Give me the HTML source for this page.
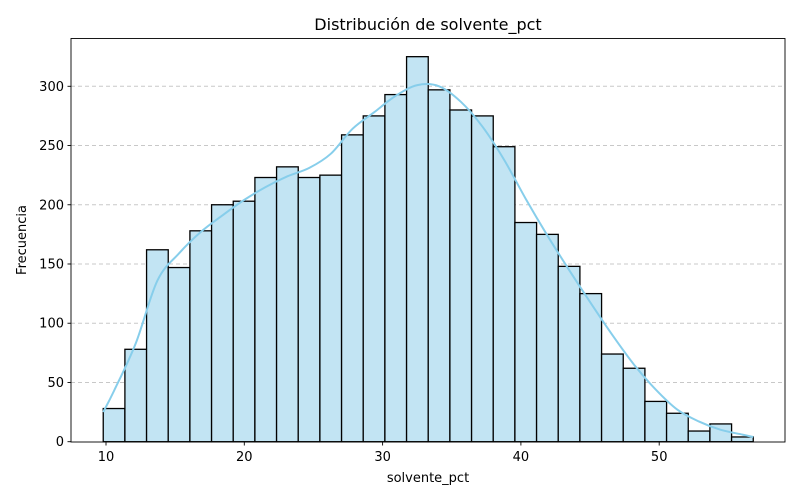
<!DOCTYPE html>
<html><head><meta charset="utf-8"><style>
body{margin:0;background:#fff;}
svg{display:block;font-family:"DejaVu Sans","Liberation Sans",sans-serif;}
</style></head><body>
<svg id="chart" width="800" height="500" viewBox="0 0 800 500">
<rect x="0" y="0" width="800" height="500" fill="#fff"/>
<text x="428" y="30" font-size="16" text-anchor="middle" fill="#000">Distribución de solvente_pct</text>
<g id="grid"></g>
<g id="bars"></g>
<g id="kde"></g>
<rect x="71" y="38.5" width="714" height="403.5" fill="none" stroke="#000" stroke-width="0.9"/>
<g id="xticks"></g>
<g id="yticks"></g>
<text x="428" y="482" font-size="13" text-anchor="middle">solvente_pct</text>
<text x="26" y="240" font-size="13" text-anchor="middle" transform="rotate(-90 26 240)">Frecuencia</text>
</svg>
<script>
const counts = [28,78,162,147,178,200,203,223,232,223,225,259,275,293,325,297,280,275,249,185,175,148,125,74,62,34,24,9,15,4];
const binStart = 9.8;
const binEnd = 56.8;
const kdeValues = [43,83,136,159,177,191,204,215,224,231,243,264,278,292,301,300,287,266,238,205,174,145,117,90,65,44,27,17,10,6];
const kdeStartValue = 25;
const kdeEndValue = 4;
const xTicks = [10,20,30,40,50];
const yTicks = [0,50,100,150,200,250,300];

const NS = "http://www.w3.org/2000/svg";
const X0 = 106, XS = 13.83;
const Y0 = 441.7, YS = 1.1847;
function xScale(v){ return X0 + (v - 10) * XS; }
function yScale(v){ return Y0 - v * YS; }
function mk(tag, attrs){ const e = document.createElementNS(NS, tag); for (const k in attrs) e.setAttribute(k, attrs[k]); return e; }

const grid = document.getElementById('grid');
const yt = document.getElementById('yticks');
yTicks.forEach(v => {
  const y = yScale(v);
  if (v > 0) {
    const g = mk('line', {x1:71, x2:785, y1:y, y2:y, stroke:'#c8c8c8', 'stroke-width':1, 'stroke-dasharray':'4,3'});
    
    
    grid.appendChild(g);
  }
  const t = mk('line', {x1:67.5, x2:71, y1:y, y2:y, stroke:'#000', 'stroke-width':0.9});
  
  
  yt.appendChild(t);
  const l = mk('text', {x:64, y:y+4.5, 'font-size':13, 'text-anchor':'end'});
  l.textContent = v;
  
  
  yt.appendChild(l);
});

const xt = document.getElementById('xticks');
xTicks.forEach(v => {
  const x = xScale(v);
  const t = mk('line', {x1:x, x2:x, y1:442, y2:445.5, stroke:'#000', 'stroke-width':0.9});
  
  
  xt.appendChild(t);
  const l = mk('text', {x:x, y:461, 'font-size':13, 'text-anchor':'middle'});
  l.textContent = v;
  
  
  xt.appendChild(l);
});

const bw = (binEnd - binStart) / counts.length;
const bars = document.getElementById('bars');
counts.forEach((c, i) => {
  const xa = xScale(binStart + i * bw), xb = xScale(binStart + (i + 1) * bw);
  const r = mk('rect', {x:xa, y:yScale(c), width:xb - xa, height:yScale(0) - yScale(c), fill:'#c2e4f3', stroke:'#000', 'stroke-width':1.3});
  
  
  bars.appendChild(r);
});

const pts = [[xScale(binStart), yScale(kdeStartValue)]];
kdeValues.forEach((v, i) => pts.push([xScale(binStart + (i + 0.5) * bw), yScale(v)]));
pts.push([xScale(binEnd), yScale(kdeEndValue)]);
let d = `M${pts[0][0]},${pts[0][1]}`;
for (let i = 0; i < pts.length - 1; i++) {
  const p0 = pts[Math.max(0, i - 1)], p1 = pts[i], p2 = pts[i + 1], p3 = pts[Math.min(pts.length - 1, i + 2)];
  const c1x = p1[0] + (p2[0] - p0[0]) / 6, c1y = p1[1] + (p2[1] - p0[1]) / 6;
  const c2x = p2[0] - (p3[0] - p1[0]) / 6, c2y = p2[1] - (p3[1] - p1[1]) / 6;
  d += ` C${c1x},${c1y} ${c2x},${c2y} ${p2[0]},${p2[1]}`;
}
const kp = mk('path', {d:d, fill:'none', stroke:'#87ceeb', 'stroke-width':2});


document.getElementById('kde').appendChild(kp);
</script>
</body></html>
